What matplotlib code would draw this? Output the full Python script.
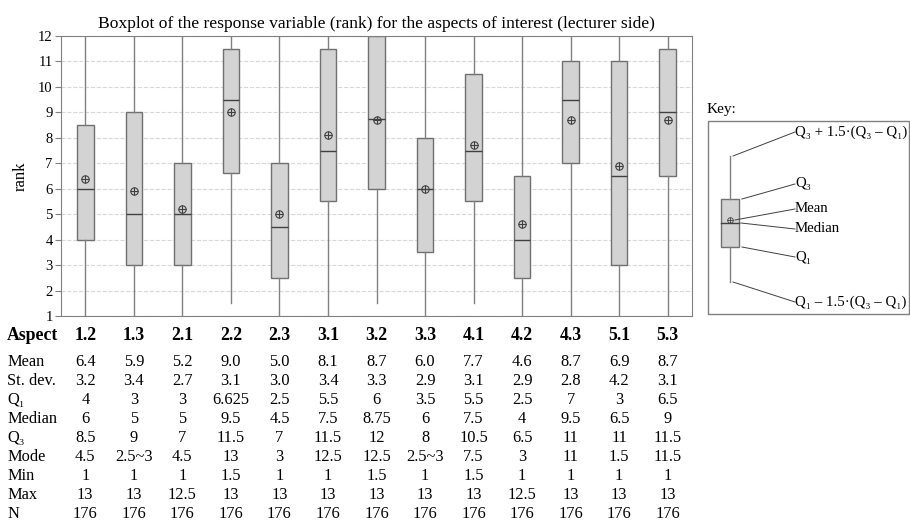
import numpy as np
import matplotlib
matplotlib.use("Agg")
import matplotlib.pyplot as plt
from matplotlib import transforms
from matplotlib.patches import Rectangle

plt.rcParams['font.family'] = ['Liberation Serif', 'DejaVu Serif']

aspects = ["1.2", "1.3", "2.1", "2.2", "2.3", "3.1", "3.2", "3.3", "4.1", "4.2", "4.3", "5.1", "5.3"]
means = [6.4, 5.9, 5.2, 9.0, 5.0, 8.1, 8.7, 6.0, 7.7, 4.6, 8.7, 6.9, 8.7]
stdevs = [3.2, 3.4, 2.7, 3.1, 3.0, 3.4, 3.3, 2.9, 3.1, 2.9, 2.8, 4.2, 3.1]
q1 = [4, 3, 3, 6.625, 2.5, 5.5, 6, 3.5, 5.5, 2.5, 7, 3, 6.5]
medians = [6, 5, 5, 9.5, 4.5, 7.5, 8.75, 6, 7.5, 4, 9.5, 6.5, 9]
q3 = [8.5, 9, 7, 11.5, 7, 11.5, 12, 8, 10.5, 6.5, 11, 11, 11.5]
modes = ["4.5", "2.5~3", "4.5", "13", "3", "12.5", "12.5", "2.5~3", "7.5", "3", "11", "1.5", "11.5"]
mins = [1, 1, 1, 1.5, 1, 1, 1.5, 1, 1.5, 1, 1, 1, 1]
maxs = [13, 13, 12.5, 13, 13, 13, 13, 13, 13, 12.5, 13, 13, 13]
ns = [176] * 13

box_face = "#d3d3d3"
edge = "#707070"
dark = "#404040"

fig = plt.figure(figsize=(9.1, 5.21), dpi=100)
ax = fig.add_axes([61 / 910, 1 - 316 / 521, (692 - 61) / 910, 280 / 521])

stats = []
for i in range(len(aspects)):
    stats.append(dict(label=aspects[i], q1=q1[i], med=medians[i], q3=q3[i],
                      whislo=mins[i], whishi=maxs[i], mean=means[i], fliers=[]))

pos = np.arange(1, len(aspects) + 1)
ax.bxp(stats, positions=pos, widths=0.34, patch_artist=True, showcaps=False,
       showfliers=False, showmeans=False,
       boxprops=dict(facecolor=box_face, edgecolor=edge, linewidth=1.0),
       whiskerprops=dict(color="#808080", linewidth=1.0),
       medianprops=dict(color=dark, linewidth=1.0))
ax.plot(pos, means, linestyle="none", marker="o", markersize=5.3,
        markerfacecolor="none", markeredgecolor=dark, markeredgewidth=0.8, zorder=5)
ax.plot(pos, means, linestyle="none", marker="+", markersize=5.3,
        markeredgecolor=dark, markeredgewidth=0.8, zorder=5)

ax.set_xlim(0.5, 13.5)
ax.set_ylim(1, 12)
ax.set_yticks(range(1, 13))
ax.set_xticks([])
ax.tick_params(axis="y", labelsize=10.5, length=4, color="#808080", pad=2)
ax.yaxis.grid(True, linestyle="--", color="#d8d8d8", linewidth=0.8)
ax.set_axisbelow(True)
for s in ax.spines.values():
    s.set_color("#808080")
ax.set_ylabel("rank", fontsize=12, labelpad=7)
ax.set_title("Boxplot of the response variable (rank) for the aspects of interest (lecturer side)",
             fontsize=12.6, pad=6)

# statistics table under the plot
trans = transforms.blended_transform_factory(ax.transData, fig.transFigure)

def fmt(v):
    return "%g" % v

rows = [
    ("Mean", ["%.1f" % v for v in means]),
    ("St. dev.", ["%.1f" % v for v in stdevs]),
    ("Q\u2081", [fmt(v) for v in q1]),
    ("Median", [fmt(v) for v in medians]),
    ("Q\u2083", [fmt(v) for v in q3]),
    ("Mode", modes),
    ("Min", [fmt(v) for v in mins]),
    ("Max", [fmt(v) for v in maxs]),
    ("N", [str(v) for v in ns]),
]

y_head = 1 - 335 / 521
fig.text(7 / 910, y_head, "Aspect", fontsize=12.8, fontweight="bold", va="center", ha="left")
for i, a in enumerate(aspects):
    ax.text(pos[i], y_head, a, transform=trans, fontsize=12.8, fontweight="bold",
            ha="center", va="center")

y0 = 362
for r, (name, vals) in enumerate(rows):
    y = 1 - (y0 + r * 18.95) / 521
    fig.text(7 / 910, y, name, fontsize=11.8, va="center", ha="left")
    for i, v in enumerate(vals):
        ax.text(pos[i], y, v, transform=trans, fontsize=11.8, ha="center", va="center")

# key
kax = fig.add_axes([0, 0, 1, 1])
kax.set_xlim(0, 910)
kax.set_ylim(521, 0)
kax.axis("off")
kax.text(707, 110, "Key:", fontsize=11, va="center", ha="left")
kax.add_patch(Rectangle((708, 121), 201, 193, facecolor="none", edgecolor="#808080", linewidth=1.0))
kax.plot([730, 730], [156, 199], color="#808080", lw=1.0)
kax.plot([730, 730], [247, 282], color="#808080", lw=1.0)
kax.add_patch(Rectangle((721, 199), 17.5, 48, facecolor=box_face, edgecolor=edge, lw=1.0))
kax.plot([721, 738.5], [223, 223], color=dark, lw=1.0)
kax.plot(730, 220, marker="o", markersize=4, markerfacecolor="none", markeredgecolor=dark, markeredgewidth=0.6)
kax.plot(730, 220, marker="+", markersize=4, markeredgecolor=dark, markeredgewidth=0.6)

key_items = [
    ((733, 156), (795, 132), "Q\u2083 + 1.5\u00b7(Q\u2083 \u2013 Q\u2081)"),
    ((742, 199), (795, 184), "Q\u2083"),
    ((735, 220), (795, 209), "Mean"),
    ((741, 223), (795, 229), "Median"),
    ((742, 247), (795, 257), "Q\u2081"),
    ((733, 282), (795, 302), "Q\u2081 \u2013 1.5\u00b7(Q\u2083 \u2013 Q\u2081)"),
]
for (xa, ya), (xb, yb), lab in key_items:
    kax.plot([xa, xb], [ya, yb], color=dark, lw=0.7)
    kax.text(xb, yb, lab, fontsize=10.7, va="center", ha="left")

fig.savefig("out.png", dpi=100)
